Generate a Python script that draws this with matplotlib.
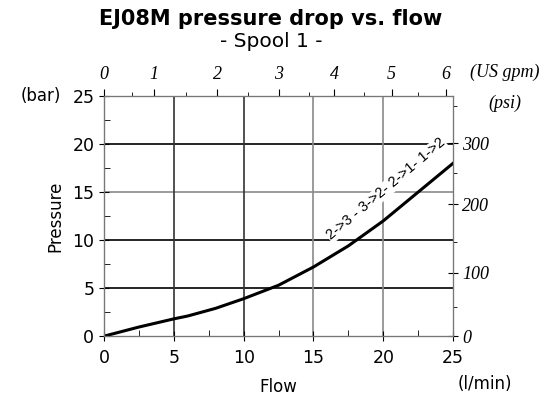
import numpy as np
import matplotlib.pyplot as plt

# data
flow = [0, 2.5, 5, 6, 8, 10, 12.5, 15, 17.5, 20, 22.5, 25]
pressure = [0, 0.95, 1.8, 2.1, 2.9, 3.9, 5.3, 7.2, 9.4, 12.0, 15.0, 18.0]

gpm_labels = ["0", "1", "2", "3", "4", "5", "6"]
gpm_pos = [0, 3.6, 8.1, 12.5, 16.5, 20.6, 24.5]
gpm_minor = [2.0, 5.9, 10.3, 14.7, 18.6, 22.5]

psi_labels = ["0", "100", "200", "300"]
psi_pos = [0, 6.6, 13.75, 20.1]
psi_minor = [3.0, 9.8, 17.0, 24.0]

curve_label = "2->3 - 3->2- 2->1- 1->2"

fig = plt.figure(figsize=(5.42, 4.05), dpi=100)
ax = fig.add_axes([0.192, 0.170, 0.644, 0.593])

#-------------------------------------------------
#grid lines
#-------------------------------------------------
for v, c in [(5, "black"), (10, "black"), (15, "#8a8a8a"), (20, "black")]:
    ax.axhline(v, color=c, lw=1.2, zorder=1)
for v, c in [(5, "#333333"), (10, "#333333"), (15, "#8a8a8a"), (20, "#8a8a8a")]:
    ax.axvline(v, color=c, lw=1.2, zorder=1)

ax.plot(flow, pressure, color="black", lw=2.2, zorder=3)

ax.text(20.2, 15.3, curve_label, rotation=40, fontsize=10.5, family="Liberation Sans",
        ha="center", va="center", rotation_mode="anchor",
        bbox=dict(facecolor="white", edgecolor="none", pad=0.5), zorder=2)

ax.set_xlim(0, 25)
ax.set_ylim(0, 25)
ax.set_xticks([0, 5, 10, 15, 20, 25])
ax.set_yticks([0, 5, 10, 15, 20, 25])
ax.set_xticks(np.arange(2.5, 25, 5), minor=True)
ax.set_yticks(np.arange(2.5, 25, 5), minor=True)
ax.tick_params(axis="both", which="major", direction="inout", length=7, labelsize=12.5)
ax.tick_params(axis="both", which="minor", direction="in", length=4)
ax.tick_params(axis="x", pad=6)
for s in ["bottom", "top", "right"]:
    ax.spines[s].set_color("#777777")
ax.spines["left"].set_color("#333333")

ax.set_xlabel("Flow", fontsize=12, labelpad=8)
ax.set_ylabel("Pressure", fontsize=12, labelpad=6)
fig.text(0.895, 0.052, "(l/min)", fontsize=12, ha="center", va="center")
fig.text(0.038, 0.763, "(bar)", fontsize=12, ha="left", va="center")

#-------------------------------------------------
#top axis (US gpm)
#-------------------------------------------------
top = ax.twiny()
top.set_xlim(0, 25)
top.set_xticks(gpm_pos)
top.set_xticklabels(gpm_labels, family="Liberation Serif", style="italic", fontsize=13)
top.set_xticks(gpm_minor, minor=True)
top.tick_params(axis="x", which="major", direction="out", length=5, pad=4)
top.tick_params(axis="x", which="minor", direction="out", length=3)

#-------------------------------------------------
#right axis (psi)
#-------------------------------------------------
right = ax.twinx()
right.set_ylim(0, 25)
right.set_yticks(psi_pos)
right.set_yticklabels(psi_labels, family="Liberation Serif", style="italic", fontsize=13)
right.set_yticks(psi_minor, minor=True)
right.tick_params(axis="y", which="major", direction="inout", length=7, pad=3)
right.tick_params(axis="y", which="minor", direction="out", length=3)
for a in [top, right]:
    for s in a.spines.values():
        s.set_color("#777777")

fig.text(0.932, 0.822, "(US gpm)", family="Liberation Serif", style="italic", fontsize=13,
         ha="center", va="center")
fig.text(0.932, 0.745, "(psi)", family="Liberation Serif", style="italic", fontsize=13,
         ha="center", va="center")

fig.text(0.5, 0.953, "EJ08M pressure drop vs. flow", fontsize=15, fontweight="bold",
         ha="center", va="center")
fig.text(0.5, 0.898, "- Spool 1 -", fontsize=14.5, ha="center", va="center")

fig.savefig("out.png", dpi=100)
